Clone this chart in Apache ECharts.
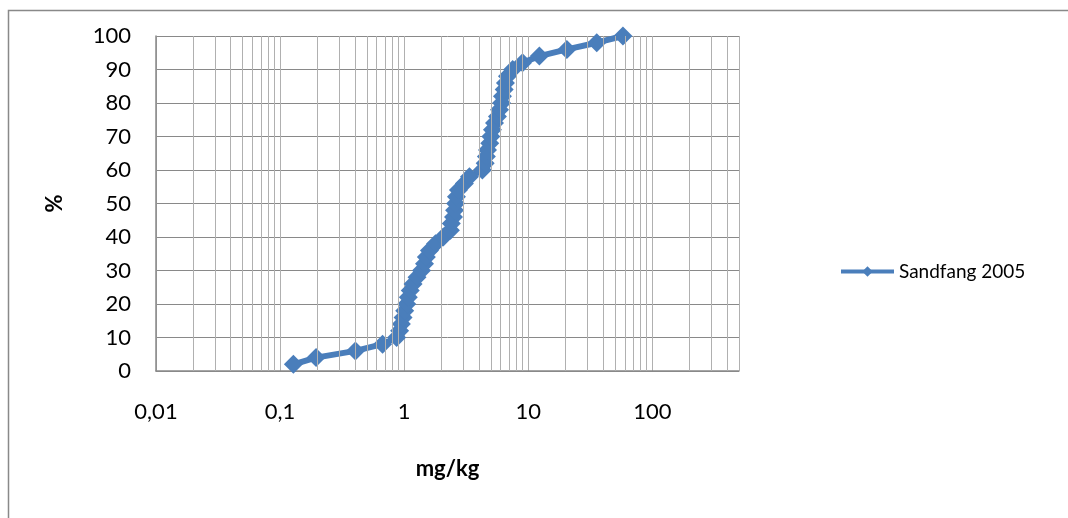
<!DOCTYPE html>
<html>
<head>
<meta charset="utf-8">
<script src="https://cdn.jsdelivr.net/npm/echarts@6/dist/echarts.min.js"></script>
<style>
html, body { margin: 0; padding: 0; background: #fff; }
#chart { width: 1068px; height: 518px; }
</style>
</head>
<body>
<div id="chart"></div>
<script>
const seriesName = 'Sandfang 2005';
// cumulative % vs concentration (mg/kg)
const xValues = [0.128, 0.195, 0.405, 0.67, 0.87, 0.92, 0.95, 0.98, 1.01, 1.05,
  1.08, 1.12, 1.18, 1.27, 1.38, 1.46, 1.51, 1.6, 1.79, 2.07,
  2.36, 2.4, 2.5, 2.55, 2.6, 2.64, 2.74, 3.06, 3.36, 4.27,
  4.5, 4.6, 4.7, 4.9, 5.0, 5.15, 5.35, 5.65, 5.87, 6.1,
  6.2, 6.4, 6.55, 6.8, 7.5, 9.0, 12.3, 20.5, 35.7, 58];
const yValues = [2, 4, 6, 8, 10, 12, 14, 16, 18, 20,
  22, 24, 26, 28, 30, 32, 34, 36, 38, 40,
  42, 44, 46, 48, 50, 52, 54, 56, 58, 60,
  62, 64, 66, 68, 70, 72, 74, 76, 78, 80,
  82, 84, 86, 88, 90, 92, 94, 96, 98, 100];
const xTickLabels = ['0,01', '0,1', '1', '10', '100'];
const minorGrid = [0.02, 0.03, 0.04, 0.05, 0.06, 0.07, 0.08, 0.09,
  0.2, 0.3, 0.4, 0.5, 0.6, 0.7, 0.8, 0.9,
  2, 3, 4, 5, 6, 7, 8, 9,
  20, 30, 40, 50, 60, 70, 80, 90,
  200, 300, 400, 500];

const font = 'Lato, "Open Sans", sans-serif';
const blue = '#4a7ebb';
const chart = echarts.init(document.getElementById('chart'));

chart.setOption({
  animation: false,
  backgroundColor: '#fff',
  graphic: [{
    type: 'rect',
    shape: { x: 8.5, y: 10.5, width: 1100, height: 600 },
    style: { fill: 'none', stroke: '#898989', lineWidth: 1.5 },
    silent: true
  }],
  grid: { left: 156, right: 329, top: 36, bottom: 147 },
  legend: {
    data: [seriesName],
    left: 834, top: 257,
    itemWidth: 53, itemHeight: 13, itemGap: 5,
    lineStyle: { width: 4 },
    textStyle: { fontFamily: font, fontSize: 19, color: '#000' }
  },
  xAxis: {
    type: 'log', logBase: 10, min: 0.01, max: 500,
    name: 'mg/kg', nameLocation: 'middle', nameGap: 87,
    nameTextStyle: { fontFamily: font, fontSize: 22, fontWeight: 'bold', color: '#000' },
    axisLine: { show: true, lineStyle: { color: '#898989', width: 1.5 } },
    axisTick: { show: false },
    splitLine: { show: true, lineStyle: { color: '#b0b0b0', width: 1 } },
    axisLabel: {
      fontFamily: font, fontSize: 22, color: '#000', margin: 30,
      showMaxLabel: false,
      formatter: function (v) {
        const lg = Math.log10(v);
        const e = Math.round(lg);
        if (Math.abs(lg - e) > 1e-6) return '';
        return xTickLabels[e + 2] || '';
      }
    }
  },
  yAxis: {
    type: 'value', min: 0, max: 100, interval: 10,
    name: '%', nameLocation: 'middle', nameGap: 90,
    nameTextStyle: { fontFamily: font, fontSize: 22, fontWeight: 'bold', color: '#000' },
    axisLine: { show: true, lineStyle: { color: '#898989', width: 1.5 } },
    axisTick: { show: false },
    splitLine: { show: true, lineStyle: { color: '#898989', width: 1 } },
    axisLabel: { fontFamily: font, fontSize: 22, color: '#000', margin: 25 }
  },
  series: [{
    name: 'grid',
    type: 'line',
    data: [],
    silent: true,
    z: 1,
    markLine: {
      silent: true,
      symbol: 'none',
      label: { show: false },
      animation: false,
      lineStyle: { color: '#b0b0b0', width: 1, type: 'solid' },
      data: minorGrid.map(v => ({ xAxis: v }))
    }
  }, {
    name: seriesName,
    type: 'line',
    z: 3,
    data: xValues.map((x, i) => [x, yValues[i]]),
    symbol: 'diamond',
    symbolSize: 19,
    lineStyle: { color: blue, width: 6 },
    itemStyle: { color: blue }
  }]
});
</script>
</body>
</html>
